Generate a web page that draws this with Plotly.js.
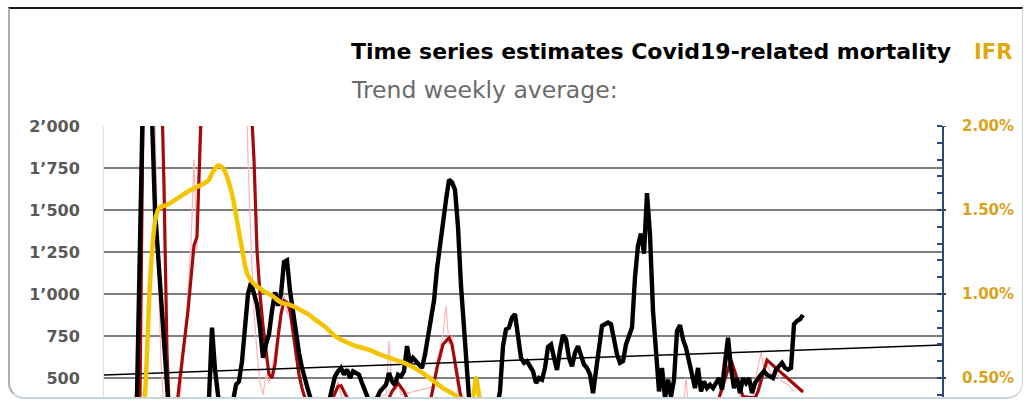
<!DOCTYPE html>
<html>
<head>
<meta charset="utf-8">
<script src="https://cdn.plot.ly/plotly-3.0.1.min.js"></script>
<style>
  html, body { margin:0; padding:0; background:#ffffff; }
  #wrap { position:relative; width:1028px; height:403px; overflow:hidden; background:#fff; }
  #chart { position:absolute; left:0; top:0; width:1028px; height:403px; }
  #frame { position:absolute; left:8px; top:7px; width:1012px; height:388px;
           border-top:2px solid #1a1a1a; border-left:2px solid #a7b0b5;
           border-right:1px solid #c9d5dc; border-bottom:2px solid #c9d5dc;
           border-radius:0 0 16px 16px; pointer-events:none; }
</style>
</head>
<body>
<div id="wrap">
  <div id="chart"></div>
  <div id="frame"></div>
</div>
<script>
// ---- data (x = day index) ----
const blackDays = [10,11,13,14,15,16,17,19,20,21,22,26,30,34,35,36,37,38,39,41,43,44,45,46,47,48,49,50,51,52,53,54,55,56,57,58,59,60,61,62,63,64,65,66,67,68,69,70,72,74,75,76,77,78,79,80,81,82,83,84,85,86,87,88,89,90,91,92,93,94,95,96,97,98,99,100,101,102,103,104,105,106,107,108,109,110,111,112,113,114,115,116,117,118,119,120,121,122,124,128,130,131,132,133,134,135,136,137,138,139,140,141,142,143,144,145,146,147,148,149,150,151,152,153,154,155,156,157,158,159,160,161,162,163,164,165,166,167,168,169,170,171,172,173,174,175,176,177,178,179,180,181,182,183,184,185,186,187,188,189,190,191,192,193,194,195,196,197,198,199,200,201,202,203,204,205,206,207,208,209,210,211,212,213,214,215,216,217,218,219,220,221,222,223,224,225,226,227,228,229,230,231,232,233];
const blackVals = [200,400,2200,2700,2600,2050,1500,980,650,380,200,260,300,310,380,800,550,400,300,280,360,460,480,600,800,1000,1066,990,940,800,620,700,760,900,1010,930,1000,1190,1200,1020,880,760,650,560,480,430,370,300,280,320,360,450,510,540,560,520,550,500,540,530,520,470,430,380,360,340,380,420,440,460,530,480,460,520,510,540,690,590,620,600,580,560,640,750,830,960,1150,1300,1400,1560,1680,1665,1620,1400,1050,830,590,300,250,280,300,330,420,690,790,800,860,880,750,620,590,600,570,540,470,500,490,560,685,700,620,548,667,756,730,620,570,650,690,640,580,560,520,410,560,700,810,820,830,820,730,640,590,600,700,750,800,1100,1290,1360,1240,1600,1350,900,640,420,560,380,490,390,490,780,815,730,680,600,540,440,560,420,480,440,460,440,470,500,430,600,740,560,440,500,410,500,470,500,410,470,500,520,540,520,510,500,550,570,590,560,550,560,820,840,850,875];

const redDays = [11,12,13,14,17,19,20,21,22,23,25,28,30,31,33,40,48,50,51,52,53,54,55,56,57,58,59,60,61,62,63,64,65,66,67,68,72,76,78,79,80,82,90,94,96,98,100,101,104,108,109,111,113,115,116,118,119,121,135,150,170,190,204,205,209,213,217,218,221,233];
const redVals = [250,400,2100,2900,3000,2400,1640,650,200,100,450,900,1290,1340,2400,3500,2500,1800,1260,1000,810,650,520,500,580,740,880,960,950,900,780,650,520,440,390,320,250,370,450,455,420,350,280,340,420,470,420,380,300,350,380,560,700,740,700,480,380,250,330,300,300,320,300,380,607,390,380,420,607,417];

const pinkDays = [11,12,13,15,17,18,19,20,24,26,28,29,30,31,32,40,47,48,49,50,51,52,53,54,55,56,57,58,59,60,61,62,63,64,65,66,67,70,77,78,79,80,94,95,96,97,98,99,110,111,112,113,114,115,116,117,118,125,131,132,133,150,193,194,195,205,206,207,208,209,210,211,212,216,217,219,220,221,222,223,224,226,228,230];
const pinkVals = [300,900,2600,2800,2050,1200,600,300,200,500,1000,1300,1800,1250,2200,3200,2600,1800,1300,900,650,470,400,520,470,560,650,800,900,1000,880,930,760,620,540,430,360,300,420,480,400,350,400,720,460,430,480,400,450,600,680,760,930,700,750,550,420,300,300,420,330,300,300,500,300,350,550,685,600,580,520,460,400,350,480,650,560,580,540,500,530,480,460,420];

const ifrDays = [13,14,15,16,17,18,19,21,25,29,33,35,36,37,38,39,40,41,42,43,44,45,46,47,48,50,53,56,59,62,65,68,71,74,77,80,84,88,92,96,100,104,107,110,113,116,118,120,122,123,124,125,126];
const ifrVals = [0.20,0.50,0.95,1.25,1.43,1.50,1.52,1.53,1.575,1.62,1.655,1.68,1.72,1.745,1.765,1.76,1.74,1.70,1.64,1.57,1.47,1.37,1.27,1.17,1.11,1.06,1.02,0.99,0.95,0.935,0.91,0.88,0.84,0.80,0.75,0.72,0.69,0.67,0.64,0.615,0.59,0.555,0.52,0.48,0.44,0.41,0.385,0.36,0.35,0.38,0.50,0.40,0.30];

const trendDays = [0, 279.33];
const trendVals = [518, 696];

const leftTickVals = [500, 750, 1000, 1250, 1500, 1750, 2000];
const leftTickText = ['500', '750', '1’000', '1’250', '1’500', '1’750', '2’000'];
const rightTickVals = [0.5, 1.0, 1.5, 2.0];
const rightTickText = ['0.50%', '1.00%', '1.50%', '2.00%'];

const titleText = 'Time series estimates Covid19-related mortality';
const subtitleText = 'Trend weekly average:';
const ifrLabel = 'IFR';

// ---- traces ----
const FONT = 'DejaVu Sans, Verdana, sans-serif';
const AXIS_BLUE = '#2c4877';
const IFR_TEXT = '#d9a21b';
const traces = [
  {x: pinkDays, y: pinkVals, type:'scatter', mode:'lines', line:{color:'#ffb3b8', width:1.2}, hoverinfo:'skip'},
  {x: redDays, y: redVals, type:'scatter', mode:'lines', line:{color:'#a30a0a', width:3.2}, hoverinfo:'skip'},
  {x: blackDays, y: blackVals, type:'scatter', mode:'lines', line:{color:'#000000', width:4.4}, hoverinfo:'skip'},
  {x: trendDays, y: trendVals, type:'scatter', mode:'lines', line:{color:'#000000', width:1.5}, hoverinfo:'skip'},
  {x: ifrDays, y: ifrVals, yaxis:'y2', type:'scatter', mode:'lines', line:{color:'#f5c400', width:4.5, shape:'spline', smoothing:0.6}, hoverinfo:'skip'}
];

// major tick marks on the secondary axis (crossing the axis line)
const majorTickShapes = rightTickVals.map(v => ({
  type:'line', xref:'paper', yref:'y2', x0:1 - 4/838, x1:1 + 4/838, y0:v, y1:v,
  line:{color:AXIS_BLUE, width:2}
}));
// secondary-axis tick labels, positioned through the y2 scale
const rightLabels = rightTickVals.map((v, i) => ({
  text:rightTickText[i], xref:'paper', yref:'y2', x:(960-104)/838, y:v,
  xanchor:'left', yanchor:'middle', showarrow:false,
  font:{family:FONT, size:15, color:IFR_TEXT, weight:'bold'}
}));

const layout = {
  width:1028, height:403,
  margin:{l:104, r:86, t:126, b:6, pad:0},
  paper_bgcolor:'rgba(0,0,0,0)', plot_bgcolor:'rgba(0,0,0,0)',
  showlegend:false,
  xaxis:{range:[0, 279.33], visible:false, fixedrange:true},
  yaxis:{range:[387, 2000], tickvals:leftTickVals, ticktext:leftTickText,
         showgrid:true, gridcolor:'#7d7d7d', gridwidth:2, zeroline:false,
         showline:true, linecolor:'#e3e3e3', linewidth:1,
         ticks:'outside', ticklen:20, tickcolor:'rgba(0,0,0,0)',
         tickfont:{family:FONT, size:16, color:'#595959', weight:'bold'}},
  yaxis2:{range:[0.387, 2.0], overlaying:'y', side:'right', anchor:'x',
          tickvals:rightTickVals, showticklabels:false, showgrid:false, zeroline:false,
          showline:true, linecolor:AXIS_BLUE, linewidth:2, ticks:'',
          minor:{dtick:0.1, tick0:0, ticks:'inside', ticklen:5, tickwidth:2, tickcolor:AXIS_BLUE, showgrid:false}},
  shapes: majorTickShapes,
  annotations:[
    {text:titleText, xref:'paper', yref:'paper', x:(349-104)/838, y:(397-52)/271, xanchor:'left', yanchor:'middle', showarrow:false,
     font:{family:FONT, size:22, color:'#000000', weight:'bold'}},
    {text:ifrLabel, xref:'paper', yref:'paper', x:(972-104)/838, y:(397-52)/271, xanchor:'left', yanchor:'middle', showarrow:false,
     font:{family:FONT, size:21, color:'#e0a80a', weight:'bold'}},
    {text:subtitleText, xref:'paper', yref:'paper', x:(349-104)/838, y:(397-90)/271, xanchor:'left', yanchor:'middle', showarrow:false,
     font:{family:FONT, size:23.5, color:'#6b6b6b'}}
  ].concat(rightLabels)
};

Plotly.newPlot('chart', traces, layout, {staticPlot:true, displayModeBar:false});
</script>
</body>
</html>
